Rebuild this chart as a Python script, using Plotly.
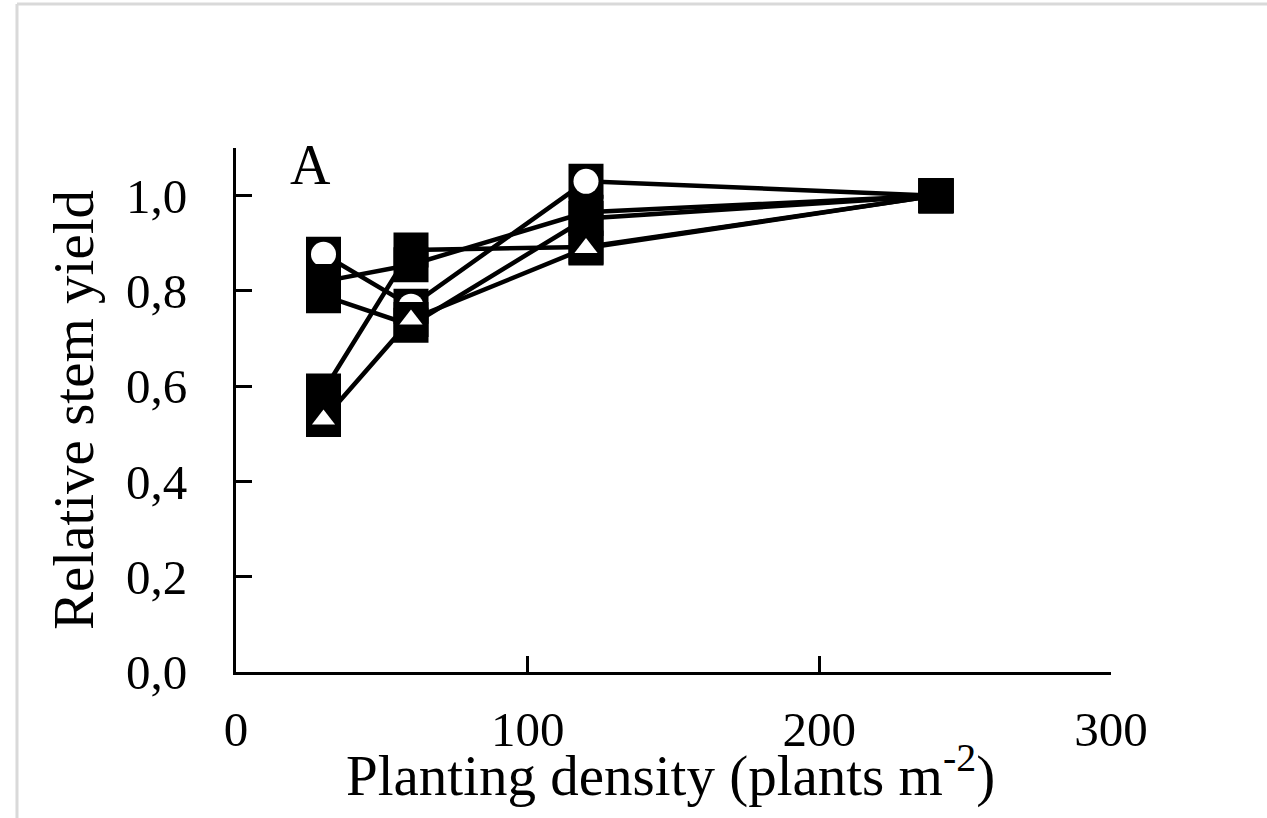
import plotly.graph_objects as go

# Planting densities (plants m-2) and relative stem yield per series
density = [30, 60, 120, 240]
yield_circle = [0.877, 0.768, 1.03, 1.0]
yield_sq_a = [0.82, 0.855, 0.965, 1.0]
yield_sq_b = [0.79, 0.728, 0.952, 1.0]
yield_sq_c = [0.59, 0.886, 0.892, 1.0]
yield_triangle = [0.53, 0.74, 0.89, 1.0]

x_ticks = [0, 100, 200, 300]
y_ticks = [0.0, 0.2, 0.4, 0.6, 0.8, 1.0]

SERIF = "Liberation Serif"
LINE_W = 4.5
SQUARE = 35

fig = go.Figure()


def add_series(values, inner_symbol=None, inner_size=None):
    fig.add_trace(go.Scatter(
        x=density, y=values, mode="lines+markers",
        line=dict(color="black", width=LINE_W),
        marker=dict(symbol="square", size=SQUARE, color="black", line=dict(width=0)),
        showlegend=False, hoverinfo="x+y",
    ))
    if inner_symbol:
        # white inner symbol on every density except the reference (highest) one
        ref = max(density)
        xs = [d for d in density if d < ref]
        ys = [v for d, v in zip(density, values) if d < ref]
        fig.add_trace(go.Scatter(
            x=xs, y=ys, mode="markers",
            marker=dict(symbol=inner_symbol, size=inner_size, color="white",
                        line=dict(width=0)),
            showlegend=False, hoverinfo="skip",
        ))


add_series(yield_circle, "circle", 25)
add_series(yield_sq_a)
add_series(yield_sq_b)
add_series(yield_sq_c)
add_series(yield_triangle, "triangle-up", 20)

axis_common = dict(
    showline=True, linecolor="black", linewidth=3,
    ticks="inside", ticklen=16, tickwidth=3, tickcolor="black",
    showgrid=False, zeroline=False, automargin=False,
    tickfont=dict(family=SERIF, size=49, color="black"),
)

fig.update_xaxes(range=[0, 300], tickvals=x_ticks, ticklabelstandoff=12, **axis_common)
fig.update_yaxes(
    range=[0, 1.1], tickvals=y_ticks, tickformat=".1f", ticklabelstandoff=36,
    title=dict(text="Relative stem yield",
               font=dict(family=SERIF, size=57, color="black"), standoff=15),
    **axis_common,
)

# x-axis title
fig.add_annotation(
    text="Planting density (plants m<sup>-2</sup>)", xref="paper", yref="paper",
    x=0.4966, y=-0.1905, xanchor="center", yanchor="middle", showarrow=False,
    font=dict(family=SERIF, size=57, color="black"),
)

# panel letter
fig.add_annotation(
    text="A", xref="paper", yref="paper", x=0.0857, y=0.968,
    xanchor="center", yanchor="middle", showarrow=False,
    font=dict(family=SERIF, size=56, color="black"),
)

# light grey frame along the top and left edges
frame = dict(type="line", xref="paper", yref="paper",
             line=dict(color="#d9d9d9", width=3), layer="below")
fig.add_shape(x0=-0.2503, x1=-0.2503, y0=-0.35, y1=1.2748, **frame)
fig.add_shape(x0=-0.2503, x1=1.25, y0=1.2748, y1=1.2748, **frame)

fig.update_layout(
    width=1267, height=818,
    margin=dict(l=236, r=156, t=148, b=146),
    paper_bgcolor="white", plot_bgcolor="white",
    separators=", ",
    font=dict(family=SERIF, color="black"),
    showlegend=False,
)

fig.write_html("out.html")
